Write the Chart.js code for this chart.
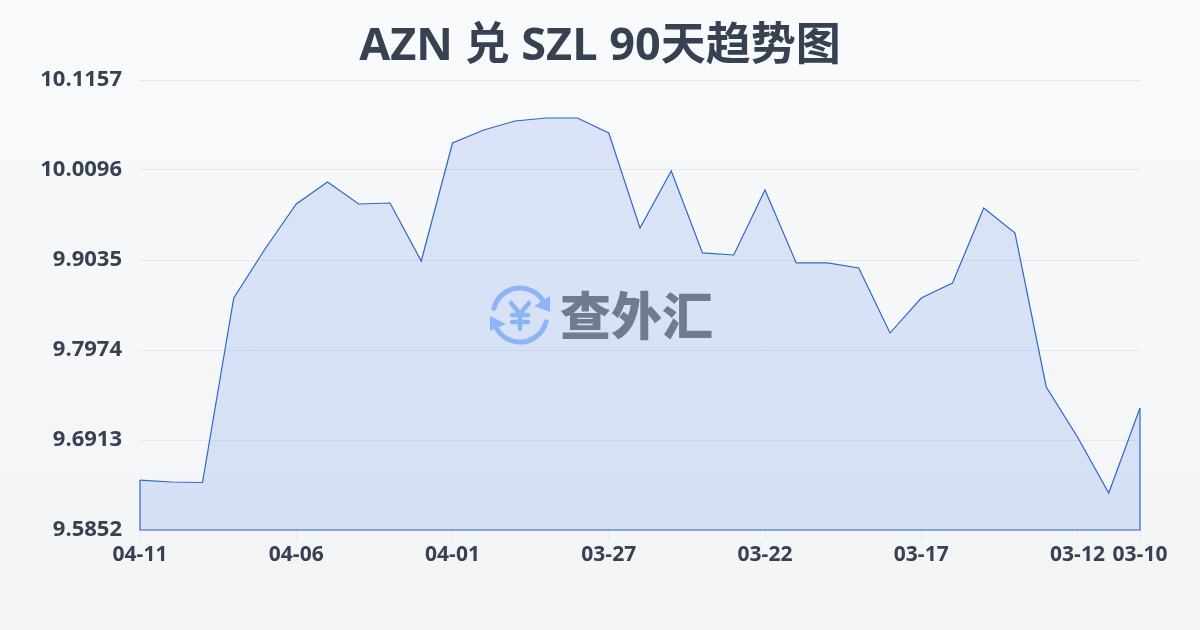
<!DOCTYPE html>
<html>
<head>
<meta charset="utf-8">
<title>AZN 兑 SZL 90天趋势图</title>
<script src="https://cdn.jsdelivr.net/npm/chart.js@4/dist/chart.umd.min.js"></script>
<style>
  html, body { margin: 0; padding: 0; width: 1200px; height: 630px; overflow: hidden; }
  body { background: linear-gradient(180deg, #f9fafb 0%, #f3f4f6 100%); }
  canvas { display: block; }
</style>
</head>
<body>
<canvas id="rateChart" width="1200" height="630"></canvas>
<script>
const dates = ['04-11','04-10','04-09','04-08','04-07','04-06','04-05','04-04','04-03','04-02','04-01',
  '03-31','03-30','03-29','03-28','03-27','03-26','03-25','03-24','03-23','03-22',
  '03-21','03-20','03-19','03-18','03-17','03-16','03-15','03-14','03-13','03-12','03-11','03-10'];
const rates = [9.6441,9.6418,9.6412,9.8587,9.9165,9.9695,9.9955,9.9695,9.9707,9.9023,10.0414,
  10.0568,10.0674,10.0709,10.0709,10.0532,9.9412,10.0084,9.9118,9.9094,9.9860,
  9.9000,9.9000,9.8941,9.8174,9.8587,9.8764,9.9648,9.9353,9.7538,9.6948,9.6288,9.7290];
const yTicks = [9.5852,9.6913,9.7974,9.9035,10.0096,10.1157];
const xTicks = ['04-11','04-06','04-01','03-27','03-22','03-17','03-12','03-10'];

const textColor = '#374151';
const lineColor = '#2f66cc';

// closes the area outline down to the baseline, like the original
const areaOutline = {
  id: 'areaOutline',
  afterDatasetsDraw(chart) {
    const pts = chart.getDatasetMeta(0).data;
    const first = pts[0], last = pts[pts.length - 1];
    const base = chart.scales.y.getPixelForValue(yTicks[0]);
    const ctx = chart.ctx;
    ctx.save();
    ctx.strokeStyle = lineColor;
    ctx.lineWidth = 1.2;
    ctx.beginPath();
    ctx.moveTo(first.x, first.y);
    ctx.lineTo(first.x, base);
    ctx.lineTo(last.x, base);
    ctx.lineTo(last.x, last.y);
    ctx.stroke();
    ctx.restore();
  }
};

// logo and name in the middle of the chart
const watermark = {
  id: 'watermark',
  afterDatasetsDraw(chart) {
    const ctx = chart.ctx;
    ctx.save();
    ctx.strokeStyle = '#8db5f6';
    ctx.fillStyle = '#8db5f6';
    ctx.lineWidth = 5;
    ctx.lineCap = 'round';
    ctx.beginPath();
    ctx.arc(520, 315, 27, Math.PI * 1.08, Math.PI * 1.82);
    ctx.stroke();
    ctx.beginPath();
    ctx.arc(520, 315, 27, Math.PI * 0.08, Math.PI * 0.82);
    ctx.stroke();
    ctx.beginPath();
    ctx.moveTo(550, 296); ctx.lineTo(550, 312); ctx.lineTo(534, 306); ctx.closePath();
    ctx.fill();
    ctx.beginPath();
    ctx.moveTo(490, 316); ctx.lineTo(490, 331); ctx.lineTo(506, 324); ctx.closePath();
    ctx.fill();
    ctx.lineWidth = 4.5;
    ctx.beginPath();
    ctx.moveTo(511, 303); ctx.lineTo(520, 314); ctx.lineTo(529, 303);
    ctx.moveTo(520, 314); ctx.lineTo(520, 329);
    ctx.moveTo(512, 315); ctx.lineTo(528, 315);
    ctx.moveTo(512, 322); ctx.lineTo(528, 322);
    ctx.stroke();
    ctx.fillStyle = '#717b8e';
    ctx.font = '900 51px "Noto Sans CJK SC"';
    ctx.textAlign = 'left';
    ctx.textBaseline = 'middle';
    ctx.fillText('查外汇', 560, 316);
    ctx.restore();
  }
};

new Chart(document.getElementById('rateChart'), {
  type: 'line',
  plugins: [areaOutline, watermark],
  data: {
    labels: dates,
    datasets: [{
      data: rates,
      borderColor: lineColor,
      borderWidth: 1.2,
      backgroundColor: 'rgba(37, 99, 235, 0.14)',
      fill: 'start',
      tension: 0,
      pointRadius: 0
    }]
  },
  options: {
    responsive: false,
    animation: false,
    plugins: {
      legend: { display: false },
      tooltip: { enabled: false },
      title: {
        display: true,
        text: 'AZN 兑 SZL 90天趋势图',
        color: textColor,
        font: { family: '"Open Sans", "Noto Sans CJK SC", sans-serif', size: 45, weight: '700', lineHeight: 1.2 },
        padding: { top: 20, bottom: 6 }
      }
    },
    scales: {
      x: {
        offset: false,
        grid: { drawOnChartArea: false, drawTicks: true, tickLength: 10, color: '#e5e7eb' },
        border: { display: false },
        afterBuildTicks(scale) {
          scale.ticks = xTicks.map(d => ({ value: dates.indexOf(d) }));
        },
        afterFit(scale) {
          scale.height = 100;
          scale.paddingRight = 60;
        },
        ticks: {
          autoSkip: false,
          maxRotation: 0,
          padding: 2,
          color: textColor,
          font: { family: '"Open Sans", sans-serif', size: 21, weight: '700' }
        }
      },
      y: {
        min: yTicks[0],
        max: yTicks[yTicks.length - 1],
        grid: { drawTicks: false, color: '#e5e7eb', lineWidth: 1 },
        border: { display: false },
        afterBuildTicks(scale) {
          scale.ticks = yTicks.map(v => ({ value: v }));
        },
        afterFit(scale) { scale.width = 140; },
        ticks: {
          padding: 18,
          color: textColor,
          font: { family: '"Open Sans", sans-serif', size: 22, weight: '700' },
          callback: v => v.toFixed(4)
        }
      }
    }
  }
});
</script>
</body>
</html>
